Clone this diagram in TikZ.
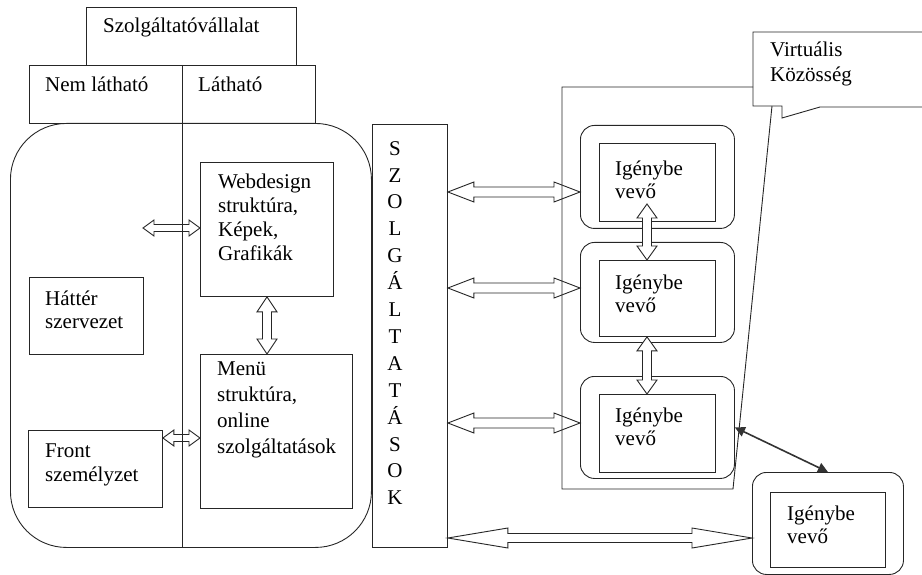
\documentclass[tikz,border=0pt]{standalone}
\usepackage{fontspec}
\setmainfont{Liberation Serif}
\newfontfamily\lserif{Liberation Serif}
\usetikzlibrary{arrows.meta,calc}
\tikzset{
  line/.style={draw=black!85, line width=0.9pt},
  box/.style={line, inner sep=0pt, anchor=north west},
  obox/.style={box, rounded corners=14pt},
  txt/.style={inner sep=0pt, align=left, font=\lserif\fontsize{21}{24}\selectfont},
  ba hl/.store in=\bahl, ba hw/.store in=\bahw, ba sw/.store in=\basw,
  ba hl=10pt, ba hw=8pt, ba sw=4pt,
  barrow/.style={line, to path={
    let \p1=(\tikztostart), \p2=(\tikztotarget) in
    (\p1) -- ($(\p1)!\bahl!(\p2)!\bahw!-90:(\p2)$)
          -- ($(\p1)!\bahl!(\p2)!\basw!-90:(\p2)$)
          -- ($(\p2)!\bahl!(\p1)!\basw!90:(\p1)$)
          -- ($(\p2)!\bahl!(\p1)!\bahw!90:(\p1)$)
          -- (\p2)
          -- ($(\p2)!\bahl!(\p1)!\bahw!-90:(\p1)$)
          -- ($(\p2)!\bahl!(\p1)!\basw!-90:(\p1)$)
          -- ($(\p1)!\bahl!(\p2)!\basw!90:(\p2)$)
          -- ($(\p1)!\bahl!(\p2)!\bahw!90:(\p2)$)
          -- cycle}},
  small arrow/.style={barrow, ba hl=11pt, ba hw=8pt, ba sw=3.5pt},
  mid arrow/.style={barrow, ba hl=26pt, ba hw=10pt, ba sw=5pt},
  long arrow/.style={barrow, ba hl=60pt, ba hw=10pt, ba sw=4.5pt},
  vert arrow/.style={barrow, fill=white, ba hl=14pt, ba hw=10pt, ba sw=4.5pt},
  dark arrow/.style={draw=black!80, line width=1.6pt,
    {Triangle[length=10pt,width=10pt]}-{Triangle[length=10pt,width=10pt]}}
}
\begin{document}
\begin{tikzpicture}[x=1pt,y=-1pt]
\useasboundingbox (0,0) rectangle (922,575);

% header boxes
\node[box, minimum width=210, minimum height=58] (company) at (86,7) {};
\node[txt, anchor=base west] (companyT) at (103,33) {Szolgáltatóvállalat};
\node[box, minimum width=286, minimum height=58] (hdr) at (29,65) {};
\node[txt, anchor=base west] (nemT) at (45,92) {Nem látható};
\node[txt, anchor=base west] (latT) at (198,92) {Látható};

% organisation body
\node[box, rounded corners=56pt, minimum width=361, minimum height=424] (org) at (10,123) {};
\coordinate (xdiv) at (182,0);
\draw[line] (hdr.north -| xdiv) -- (org.south -| xdiv);

\node[box, minimum width=133, minimum height=134] (web) at (200,162) {};
\node[txt, anchor=north west] (webT) at ([xshift=18pt,yshift=-12pt]web.north west)
  {Webdesign\\struktúra,\\Képek,\\Grafikák};
\node[box, minimum width=114, minimum height=77] (hat) at (29,277) {};
\node[txt, anchor=north west, font=\lserif\fontsize{21}{23}\selectfont] (hatT) at ([xshift=16pt,yshift=-14pt]hat.north west)
  {Háttér\\szervezet};
\node[box, minimum width=152, minimum height=154] (menu) at (200,354) {};
\node[txt, anchor=north west, font=\lserif\fontsize{21}{26}\selectfont] (menuT) at ([xshift=17pt,yshift=-8pt]menu.north west)
  {Menü\\struktúra,\\online\\szolgáltatások};
\node[box, minimum width=134, minimum height=77] (front) at (28,430) {};
\node[txt, anchor=north west] (frontT) at ([xshift=17pt,yshift=-14pt]front.north west)
  {Front\\személyzet};

% services column
\node[box, minimum width=75, minimum height=423] (szolg) at (372,124) {};
\node[txt, align=center, font=\lserif\fontsize{21}{26.9}\selectfont] (szolgT) at (395,323)
  {S\\Z\\O\\L\\G\\Á\\L\\T\\A\\T\\Á\\S\\O\\K};

% virtual community
\draw[line] (753,87) -- (562,87) -- (562,489) -- (733,489) -- (772,106);
\draw[line] (922,32) -- (753,32) -- (753,106) -- (782,106) -- (782,118) -- (820,107) -- (922,107);
\node[txt, anchor=north west, font=\lserif\fontsize{21}{25}\selectfont] (virtT) at (770,42)
  {Virtuális\\Közösség};

% users
\node[obox, minimum width=154, minimum height=103] (ig1) at (580,125) {};
\node[box, minimum width=116, minimum height=78] (ig1in) at (599,143) {};
\node[txt, anchor=north west, font=\lserif\fontsize{21}{23}\selectfont] (ig1T) at ([xshift=16pt,yshift=-18pt]ig1in.north west) {Igénybe\\vevő};

\node[obox, minimum width=154, minimum height=100] (ig2) at (580,242) {};
\node[box, minimum width=116, minimum height=76] (ig2in) at (599,260) {};
\node[txt, anchor=north west, font=\lserif\fontsize{21}{23}\selectfont] (ig2T) at ([xshift=16pt,yshift=-15pt]ig2in.north west) {Igénybe\\vevő};

\node[obox, minimum width=154, minimum height=102] (ig3) at (580,376) {};
\node[box, minimum width=116, minimum height=78] (ig3in) at (599,394) {};
\node[txt, anchor=north west, font=\lserif\fontsize{21}{23}\selectfont] (ig3T) at ([xshift=16pt,yshift=-14pt]ig3in.north west) {Igénybe\\vevő};

\node[obox, minimum width=151, minimum height=102] (ig4) at (752,472) {};
\node[box, minimum width=115, minimum height=75] (ig4in) at (770,492) {};
\node[txt, anchor=north west, font=\lserif\fontsize{21}{23}\selectfont] (ig4T) at ([xshift=17pt,yshift=-14pt]ig4in.north west) {Igénybe\\vevő};

% arrows inside organisation
\coordinate (wL) at (143,228);
\coordinate (yw) at (0,228);
\draw[small arrow] (wL) to (web.west |- yw);
\coordinate (yf) at (0,438);
\draw[small arrow] (front.east |- yf) to (menu.west |- yf);
\coordinate (xv) at (267,0);
\draw[vert arrow, ba hl=15pt] (web.south -| xv) to (menu.north -| xv);

% service arrows
\coordinate (y1) at (0,192);
\coordinate (y2) at (0,288);
\coordinate (y3) at (0,423);
\coordinate (y4) at (0,538);
\draw[mid arrow] (szolg.east |- y1) to (ig1.west |- y1);
\draw[mid arrow] (szolg.east |- y2) to (ig2.west |- y2);
\draw[mid arrow] (szolg.east |- y3) to (ig3.west |- y3);
\draw[long arrow] (szolg.east |- y4) to (ig4.west |- y4);

% between users
\coordinate (iv1) at (647,204);
\draw[vert arrow] (iv1) to (ig2in.north -| iv1);
\draw[vert arrow] (ig2in.south -| iv1) to (ig3in.north -| iv1);
\draw[dark arrow] (ig3.east) -- (ig4.north);
\end{tikzpicture}
\end{document}
